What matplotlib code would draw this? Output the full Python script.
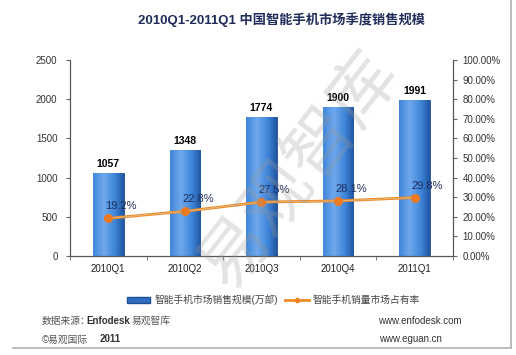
import matplotlib
matplotlib.use("Agg")
import matplotlib.pyplot as plt
import numpy as np
from matplotlib.lines import Line2D
from matplotlib.patches import Patch
from matplotlib.colors import LinearSegmentedColormap

plt.rcParams['font.family'] = ['Liberation Sans', 'Noto Sans CJK SC', 'DejaVu Sans']

categories = ['2010Q1', '2010Q2', '2010Q3', '2010Q4', '2011Q1']
sales = [1057, 1348, 1774, 1900, 1991]
share = [19.2, 22.8, 27.5, 28.1, 29.8]
share_labels = ['19.2%', '22.8%', '27.5%', '28.1%', '29.8%']
left_ticks = [0, 500, 1000, 1500, 2000, 2500]
right_ticks = [0, 10, 20, 30, 40, 50, 60, 70, 80, 90, 100]

fig = plt.figure(figsize=(5.16, 3.55), dpi=100)
fig.patch.set_facecolor('white')
ax = fig.add_axes([0.1357, 0.279, 0.742, 0.552])
ax2 = ax.twinx()

x = np.arange(len(categories))
bars = ax.bar(x, sales, width=0.4, color='#2F6DC2', edgecolor='#1E4E95', linewidth=0.6, zorder=2)

grad = np.linspace(0, 1, 64)
grad = 1 - np.abs(grad - 0.35) * 1.4
grad = np.clip(grad, 0, 1)[None, :]
cmap = LinearSegmentedColormap.from_list('bar', ['#1B4C95', '#3F86DA', '#6FA8EC'])
for b in bars:
    bx, bw, bh = b.get_x(), b.get_width(), b.get_height()
    im = ax.imshow(grad, extent=[bx, bx + bw, 0, bh], aspect='auto', cmap=cmap, zorder=2.5, vmin=0, vmax=1)
    im.set_clip_path(b)

for xi, v in zip(x, sales):
    ax.text(xi, v + 50, str(v), ha='center', va='bottom', fontsize=7.5, fontweight='bold', color='black', zorder=5)

ax.set_xlim(-0.5, len(categories) - 0.5)
ax.set_ylim(0, 2500)
ax.set_yticks(left_ticks)
ax.set_yticklabels([str(t) for t in left_ticks], fontsize=7, color='#333333')
ax.set_xticks(x)
ax.set_xticklabels(categories, fontsize=7, color='#222222')
ax.set_xticks(np.arange(-0.5, len(categories)), minor=True)
ax.tick_params(axis='x', which='major', length=0, pad=6)
ax.tick_params(axis='x', which='minor', length=3, color='#666666')
ax.tick_params(axis='y', length=3, color='#666666', pad=6)

ax2.plot(x, share, color='#F08A24', linewidth=2.0, zorder=3, solid_capstyle='round')
ax2.plot(x, share, color='#D9C9A0', linewidth=0.6, zorder=3.5, alpha=0.8)
ax2.plot(x, share, linestyle='none', marker='o', markersize=5.5, color='#EE7A22', zorder=4)
for xi, v, lab in zip(x, share, share_labels):
    ax2.text(xi + 0.17, v + 3.5, lab, ha='center', va='bottom', fontsize=8, color='#1F2D5A', zorder=5)
ax2.set_ylim(0, 100)
ax2.set_yticks(right_ticks)
ax2.set_yticklabels(['%.2f%%' % t for t in right_ticks], fontsize=7, color='#333333')
ax2.tick_params(axis='y', length=3, color='#666666', pad=4)

for a in (ax, ax2):
    a.spines['top'].set_visible(False)
    for s in ['left', 'right', 'bottom']:
        a.spines[s].set_color('#555555')
        a.spines[s].set_linewidth(0.8)
ax.set_zorder(1)
ax2.set_zorder(2)
ax2.patch.set_visible(False)

# watermark
fig.text(0.58, 0.52, '易观智库', fontsize=50, color='#9A9A9A', alpha=0.28,
         rotation=52, ha='center', va='center', family=['Noto Sans CJK SC'], zorder=10)

fig.text(0.545, 0.944, '2010Q1-2011Q1 中国智能手机市场季度销售规模', ha='center', va='center',
         fontsize=9.5, fontweight='bold', color='#1F2D5A')

handles = [Patch(facecolor='#2F6DC2', edgecolor='#1E4E95'),
           Line2D([0], [0], color='#F08A24', lw=2, marker='o', markersize=3, markerfacecolor='#EE7A22')]
fig.legend(handles, ['智能手机市场销售规模(万部)', '智能手机销量市场占有率'], loc='center',
           bbox_to_anchor=(0.53, 0.155), ncol=2, frameon=False, fontsize=7, handlelength=2.4,
           handleheight=0.5, columnspacing=0.8, handletextpad=0.4, labelcolor='#444444')

fig.text(0.081, 0.097, '数据来源：', fontsize=7, color='#555555', va='center')
fig.text(0.168, 0.097, 'Enfodesk', fontsize=7, color='#333333', va='center', fontweight='bold')
fig.text(0.256, 0.097, '易观智库', fontsize=7, color='#555555', va='center')
fig.text(0.081, 0.044, '©易观国际', fontsize=7, color='#555555', va='center')
fig.text(0.193, 0.044, '2011', fontsize=7, color='#333333', va='center', fontweight='bold')
fig.text(0.732, 0.097, 'www.enfodesk.com', fontsize=7, color='#333333', va='center')
fig.text(0.735, 0.044, 'www.eguan.cn', fontsize=7, color='#333333', va='center')

fig.add_artist(Line2D([0.99, 0.99], [0.02, 1.0], transform=fig.transFigure, color='#B0B0B0', lw=1.2))
fig.add_artist(Line2D([0.025, 0.99], [0.02, 0.02], transform=fig.transFigure, color='#B0B0B0', lw=1.2))

fig.savefig('out.png', dpi=100)
